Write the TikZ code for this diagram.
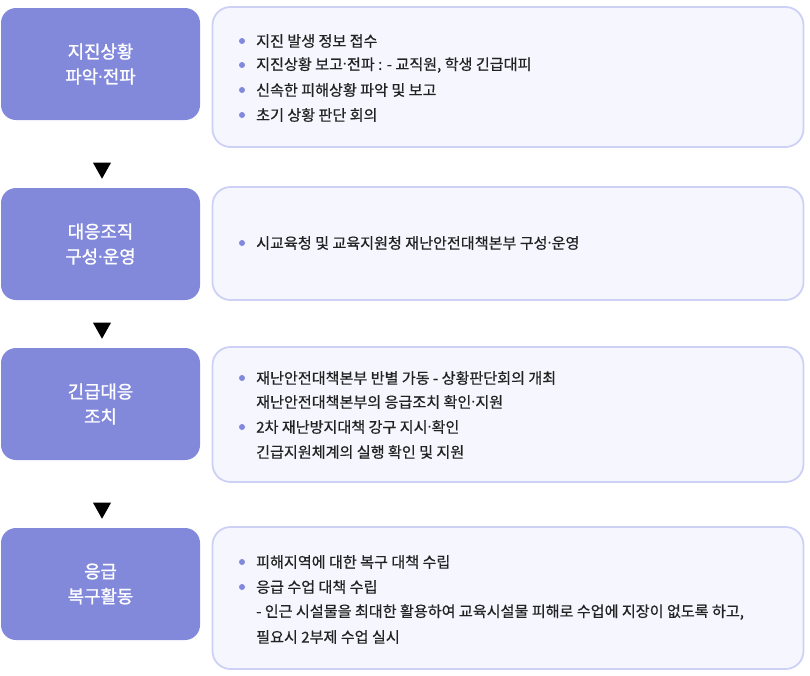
\documentclass[tikz,border=0pt]{standalone}
\usepackage{fontspec}
\setmainfont{Noto Sans CJK KR}
\newfontfamily\bodyfont{Noto Sans CJK KR}[FakeBold=0.6]
\newfontfamily\headfont{Noto Sans CJK KR}[FakeBold=1.3]
\newfontfamily\latinfont{Noto Sans}
\newcommand{\md}{{\latinfont ·}}
\usetikzlibrary{shapes.geometric}
\definecolor{stepfill}{HTML}{8289DB}
\definecolor{descfill}{HTML}{F5F6FE}
\definecolor{descline}{HTML}{CED1F6}
\definecolor{txt}{HTML}{222222}
\tikzset{
  stepbox/.style={rectangle, rounded corners=15pt, fill=stepfill, draw=none,
    minimum width=199pt, minimum height=112pt, inner sep=0pt,
    text=white, align=center, font=\headfont\fontsize{17.8}{25}\selectfont},
  descbox/.style={rectangle, rounded corners=18pt, fill=descfill, draw=descline,
    line width=1.8pt, minimum width=591pt, inner sep=0pt},
  tri/.style={isosceles triangle, shape border rotate=-90, isosceles triangle apex angle=60,
    fill=black, inner sep=0pt, minimum width=18pt, minimum height=16pt, isosceles triangle stretches},
  ln/.style={anchor=west, inner sep=0pt, text=txt, font=\bodyfont\fontsize{15.1}{17}\selectfont},
  dot/.style={circle, fill=stepfill, inner sep=0pt, minimum size=6pt}
}
\begin{document}
\begin{tikzpicture}[x=1pt,y=-1pt]
\useasboundingbox (0,0) rectangle (810,675);
% left step boxes
\node[stepbox] (s1) at (100.5,64) {지진상황\\파악\md 전파};
\node[stepbox] (s2) at (100.5,244) {대응조직\\구성\md 운영};
\node[stepbox] (s3) at (100.5,404) {긴급대응\\조치};
\node[stepbox] (s4) at (100.5,584) {응급\\복구활동};
% arrows
\node[tri] (t1) at (102,168) {};
\node[tri] (t2) at (102,328) {};
\node[tri] (t3) at (102,508) {};
% right description boxes
\node[descbox, minimum height=140pt] (d1) at (508,77) {};
\node[descbox, minimum height=113pt] (d2) at (508,243.5) {};
\node[descbox, minimum height=135pt] (d3) at (508,414.5) {};
\node[descbox, minimum height=142pt] (d4) at (508,598) {};
% box 1
\node[dot] (b11) at (242,41) {};
\node[ln] (l11) at (256,41) {지진 발생 정보 접수};
\node[dot] (b12) at (242,65) {};
\node[ln] (l12) at (256,65) {지진상황 보고\md 전파 : - 교직원, 학생 긴급대피};
\node[dot] (b13) at (242,90) {};
\node[ln] (l13) at (256,90) {신속한 피해상황 파악 및 보고};
\node[dot] (b14) at (242,115) {};
\node[ln] (l14) at (256,115) {초기 상황 판단 회의};
% box 2
\node[dot] (b21) at (242,243) {};
\node[ln] (l21) at (256,243) {시교육청 및 교육지원청 재난안전대책본부 구성\md 운영};
% box 3
\node[dot] (b31) at (242,378) {};
\node[ln] (l31) at (256,378) {재난안전대책본부 반별 가동 - 상황판단회의 개최};
\node[ln] (l32) at (256,402) {재난안전대책본부의 응급조치 확인\md 지원};
\node[dot] (b33) at (242,427) {};
\node[ln] (l33) at (256,427) {2차 재난방지대책 강구 지시\md 확인};
\node[ln] (l34) at (256,452) {긴급지원체계의 실행 확인 및 지원};
% box 4
\node[dot] (b41) at (242,562) {};
\node[ln] (l41) at (256,562) {피해지역에 대한 복구 대책 수립};
\node[dot] (b42) at (242,587) {};
\node[ln] (l42) at (256,587) {응급 수업 대책 수립};
\node[ln] (l43) at (256,612) {- 인근 시설물을 최대한 활용하여 교육시설물 피해로 수업에 지장이 없도록 하고,};
\node[ln] (l44) at (256,637) {필요시 2부제 수업 실시};
\end{tikzpicture}
\end{document}
